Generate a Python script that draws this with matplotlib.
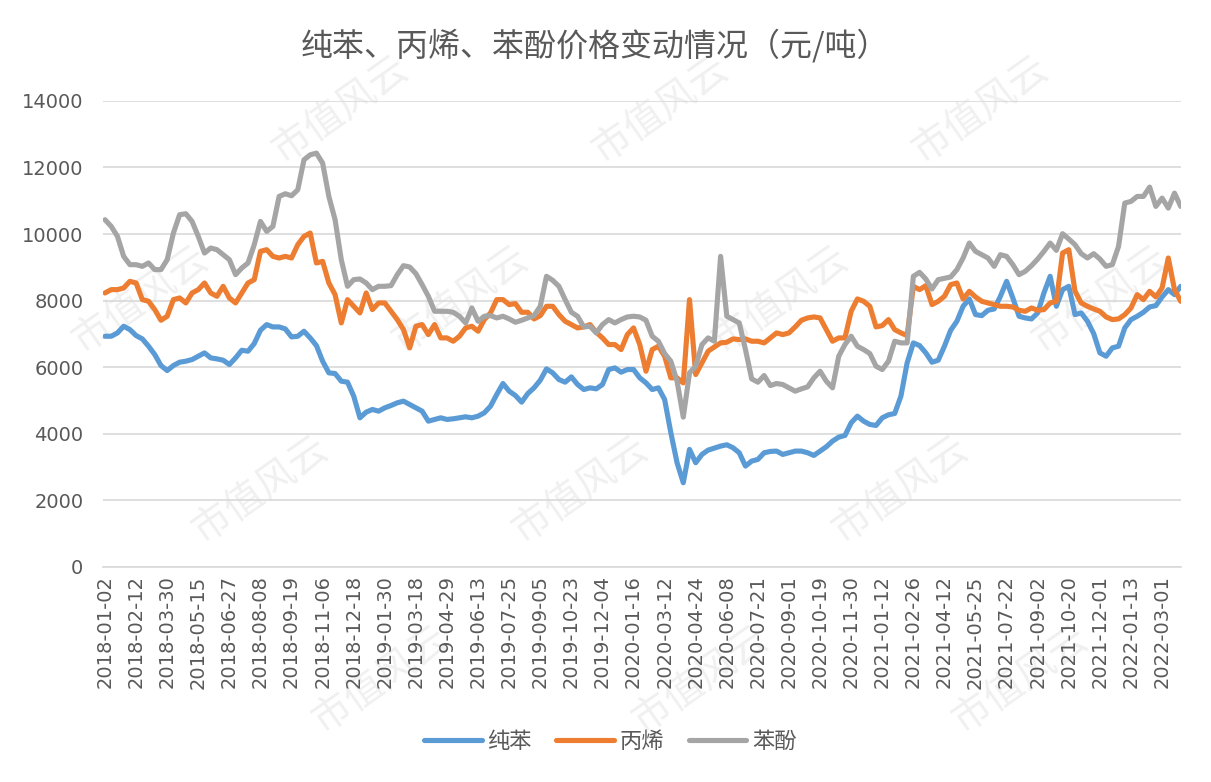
import matplotlib
matplotlib.use("Agg")
import matplotlib.pyplot as plt
import numpy as np

plt.rcParams['font.family'] = ['Noto Sans CJK SC', 'DejaVu Sans']

# 价格数据（元/吨），大约每6个交易日取一个点，从2018-01-02开始
step = 6

benzene = [
    6930, 6930, 7030, 7230, 7130, 6950, 6850, 6630, 6380, 6050,
    5900, 6050, 6150, 6180, 6230, 6330, 6430, 6280, 6250, 6210,
    6080, 6280, 6510, 6480, 6710, 7110, 7280, 7210, 7210, 7150,
    6910, 6930, 7080, 6880, 6650, 6180, 5830, 5810, 5580, 5550,
    5130, 4480, 4650, 4730, 4680, 4780, 4850, 4930, 4980, 4880,
    4780, 4680, 4380, 4430, 4480, 4430, 4450, 4480, 4510, 4480,
    4530, 4630, 4830, 5180, 5510, 5280, 5150, 4950, 5210, 5380,
    5610, 5950, 5830, 5630, 5550, 5710, 5480, 5330, 5380, 5350,
    5480, 5930, 5980, 5850, 5930, 5930, 5680, 5530, 5330, 5380,
    5030, 4030, 3130, 2530, 3530, 3130, 3380, 3510, 3570, 3630,
    3670, 3580, 3430, 3030, 3180, 3230, 3430, 3470, 3480, 3380,
    3430, 3480, 3480, 3430, 3350, 3480, 3610, 3780, 3900, 3950,
    4330, 4530, 4380, 4280, 4250, 4480, 4570, 4610, 5130, 6130,
    6730, 6650, 6430, 6150, 6210, 6630, 7110, 7380, 7830, 8050,
    7580, 7550, 7710, 7750, 8130, 8580, 8080, 7530, 7480, 7450,
    7630, 8230, 8730, 7830, 8330, 8430, 7580, 7630, 7380, 7010,
    6430, 6330, 6580, 6630, 7180, 7430, 7530, 7650, 7810, 7850,
    8110, 8330, 8180, 8430,
]

propylene = [
    8230, 8330, 8330, 8380, 8580, 8530, 8030, 7980, 7730, 7410,
    7530, 8030, 8080, 7930, 8230, 8330, 8530, 8230, 8130, 8430,
    8080, 7930, 8230, 8530, 8630, 9480, 9530, 9330, 9280, 9330,
    9280, 9680, 9930, 10030, 9130, 9180, 8530, 8180, 7330, 8030,
    7830, 7630, 8230, 7730, 7930, 7930, 7680, 7430, 7130, 6580,
    7230, 7280, 6980, 7280, 6880, 6880, 6780, 6930, 7180, 7230,
    7080, 7430, 7630, 8030, 8030, 7880, 7910, 7650, 7650, 7450,
    7550, 7830, 7830, 7580, 7380, 7280, 7180, 7210, 7280, 7050,
    6880, 6680, 6680, 6530, 6980, 7180, 6680, 5880, 6530, 6630,
    6330, 5680, 5680, 5530, 8030, 5780, 6130, 6480, 6610, 6730,
    6750, 6850, 6830, 6850, 6780, 6780, 6730, 6880, 7030, 6980,
    7030, 7210, 7410, 7480, 7510, 7480, 7130, 6780, 6880, 6880,
    7680, 8050, 7980, 7830, 7210, 7250, 7430, 7130, 7030, 6950,
    8430, 8330, 8450, 7880, 7980, 8130, 8480, 8530, 8050, 8280,
    8110, 7980, 7930, 7880, 7830, 7830, 7810, 7710, 7680, 7780,
    7710, 7730, 7930, 7980, 9430, 9530, 8280, 7930, 7830, 7750,
    7680, 7510, 7430, 7450, 7580, 7780, 8180, 8030, 8280, 8110,
    8380, 9280, 8330, 7980,
]

phenol = [
    10430, 10230, 9930, 9330, 9080, 9080, 9030, 9130, 8930, 8930,
    9230, 10030, 10580, 10610, 10380, 9930, 9430, 9580, 9530, 9380,
    9230, 8780, 8980, 9130, 9680, 10380, 10080, 10230, 11130, 11210,
    11150, 11330, 12230, 12380, 12430, 12130, 11130, 10430, 9230, 8430,
    8630, 8650, 8530, 8330, 8430, 8430, 8450, 8780, 9050, 9010,
    8810, 8480, 8130, 7680, 7680, 7680, 7650, 7530, 7330, 7780,
    7380, 7530, 7550, 7480, 7530, 7450, 7350, 7410, 7480, 7550,
    7830, 8730, 8610, 8430, 8030, 7650, 7530, 7210, 7230, 7030,
    7280, 7430, 7330, 7430, 7510, 7530, 7510, 7410, 6930, 6780,
    6410, 6180, 5580, 4500, 5830, 6030, 6680, 6880, 6780, 9330,
    7530, 7430, 7330, 6530, 5650, 5550, 5750, 5450, 5510, 5480,
    5380, 5280, 5350, 5410, 5680, 5880, 5580, 5380, 6330, 6680,
    6930, 6630, 6530, 6410, 6030, 5930, 6180, 6780, 6730, 6730,
    8730, 8850, 8650, 8350, 8630, 8670, 8710, 8930, 9280, 9730,
    9480, 9380, 9280, 9030, 9380, 9330, 9080, 8780, 8880, 9050,
    9250, 9480, 9730, 9510, 10010, 9850, 9680, 9410, 9280, 9410,
    9250, 9030, 9080, 9630, 10930, 10980, 11130, 11130, 11410, 10830,
    11080, 10780, 11230, 10830,
]

# 横轴标签，每30个交易日一个
tick_labels = [
    "2018-01-02", "2018-02-12", "2018-03-30", "2018-05-15", "2018-06-27",
    "2018-08-08", "2018-09-19", "2018-11-06", "2018-12-18", "2019-01-30",
    "2019-03-18", "2019-04-29", "2019-06-13", "2019-07-25", "2019-09-05",
    "2019-10-23", "2019-12-04", "2020-01-16", "2020-03-12", "2020-04-24",
    "2020-06-08", "2020-07-21", "2020-09-01", "2020-10-19", "2020-11-30",
    "2021-01-12", "2021-02-26", "2021-04-12", "2021-05-25", "2021-07-22",
    "2021-09-02", "2021-10-20", "2021-12-01", "2022-01-13", "2022-03-01",
]
tick_every = 30

text_color = "#595959"
grid_color = "#D9D9D9"

fig = plt.figure(figsize=(12.11, 7.82), dpi=100)
ax = fig.add_axes([0.085, 0.275, 0.89, 0.596])
ax.patch.set_alpha(0)

# 水印（只放完整落在图内的）
for r in range(-1, 5):
    for c in range(-4, 5):
        wx = 340 + 120 * r + 320 * c
        wy = 110 + 190 * r
        if 80 < wx < 1130 and 65 < wy < 720:
            fig.text(wx / 1211, 1 - wy / 782, "市值风云", fontsize=28, color="#F0F0F0",
                     fontweight="light", rotation=35, ha="center", va="center", zorder=-5)

x = np.arange(len(benzene)) * step
line_kw = dict(lw=3.7, solid_capstyle="round", solid_joinstyle="round")
ax.plot(x, benzene, color="#5B9BD5", label="纯苯", **line_kw)
ax.plot(x, propylene, color="#ED7D31", label="丙烯", **line_kw)
ax.plot(x, phenol, color="#A5A5A5", label="苯酚", **line_kw)

ax.set_ylim(0, 14000)
ax.set_yticks(range(0, 14001, 2000))
ax.set_xlim(-2, 1038)
ax.set_xticks(np.arange(len(tick_labels)) * tick_every)
ax.set_xticklabels(tick_labels, rotation=90)

ax.grid(axis="y", color=grid_color, lw=1.2)
ax.set_axisbelow(True)
for s in ["top", "right", "left"]:
    ax.spines[s].set_visible(False)
ax.spines["bottom"].set_color(grid_color)
ax.spines["bottom"].set_linewidth(1.2)
ax.tick_params(axis="both", length=0, colors=text_color, labelsize=14)
ax.tick_params(axis="y", pad=14)
ax.tick_params(axis="x", pad=6)
for lab in ax.get_xticklabels() + ax.get_yticklabels():
    lab.set_fontfamily("DejaVu Sans")

fig.text(0.491, 0.942, "纯苯、丙烯、苯酚价格变动情况（元/吨）", fontsize=23, color=text_color,
         ha="center", va="center")

leg = fig.legend(loc="center", bbox_to_anchor=(0.504, 0.052), ncol=3, frameon=False,
                 fontsize=16, handlelength=2.6, handletextpad=0.25, columnspacing=1.1)
for t in leg.get_texts():
    t.set_color(text_color)

fig.savefig("out.png", dpi=100)
